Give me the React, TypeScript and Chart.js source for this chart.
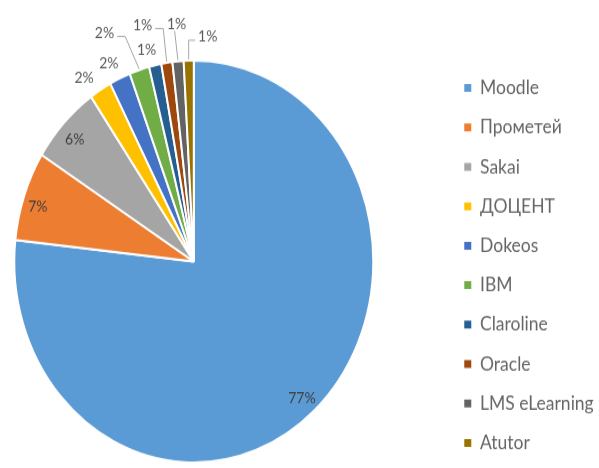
import React, { useEffect, useRef } from 'react';
import { Chart, registerables } from 'chart.js';

Chart.register(...registerables);

// ---- data ----
const categories = ['Moodle', 'Прометей', 'Sakai', 'ДОЦЕНТ', 'Dokeos', 'IBM', 'Claroline', 'Oracle', 'LMS eLearning', 'Atutor'];
const shares = [76.7, 7.2, 6.4, 2.0, 1.9, 1.8, 1.1, 1.0, 1.0, 0.9];

// ---- styles ----
const colors = ['#5B9BD5', '#ED7D31', '#A5A5A5', '#FFC000', '#4472C4', '#70AD47', '#255E91', '#9E480E', '#636363', '#997300'];
// label placement relative to each slice (radius factor, angular shift in degrees, leader line)
const labelRadius = [0.91, 0.91, 0.90, 1.10, 1.095, 1.24, 1.085, 1.21, 1.185, 1.12];
const labelShift = [0.5, -1.8, -1, -2.4, -1.3, -6, -1.6, -5, 0.4, 5.6];
const labelLeader = [false, false, false, false, false, true, false, true, true, true];

const SY = 1.12;
const PLOT_W = 505.6; // width left of the legend (pie area)

const pctLabels = {
  id: 'pctLabels',
  afterDatasetsDraw(chart: any) {
    const ctx = chart.ctx;
    const meta = chart.getDatasetMeta(0);
    const data = chart.data.datasets[0].data as number[];
    const total = data.reduce((a, b) => a + b, 0);
    ctx.save();
    ctx.font = '14px Lato';
    ctx.textAlign = 'center';
    ctx.textBaseline = 'middle';
    meta.data.forEach((arc: any, i: number) => {
      const { x, y, startAngle, endAngle, outerRadius } = arc.getProps(['x', 'y', 'startAngle', 'endAngle', 'outerRadius'], true);
      const mid = (startAngle + endAngle) / 2;
      const a = mid + (labelShift[i] * Math.PI) / 180;
      const lx = x + Math.cos(a) * outerRadius * labelRadius[i];
      const ly = y + Math.sin(a) * outerRadius * labelRadius[i];
      const text = Math.round((data[i] / total) * 100) + '%';
      const tw = ctx.measureText(text).width;
      if (labelLeader[i]) {
        const ex = x + Math.cos(mid) * (outerRadius + 1);
        const ey = y + Math.sin(mid) * (outerRadius + 1);
        ctx.strokeStyle = '#A6A6A6';
        ctx.lineWidth = 1;
        ctx.beginPath();
        if (ex > lx + tw / 2 + 2) {
          const sx = lx + tw / 2 + 3;
          const sy = ly + 3;
          ctx.moveTo(sx, sy);
          ctx.lineTo(Math.min(sx + 8, ex), sy);
          ctx.lineTo(ex, ey);
        } else if (ex < lx - tw / 2 - 2) {
          const sx = lx - tw / 2 - 3;
          const sy = ly + 3;
          ctx.moveTo(sx, sy);
          ctx.lineTo(Math.max(sx - 8, ex), sy);
          ctx.lineTo(ex, ey);
        } else {
          ctx.moveTo(lx - 2, ly + 6);
          ctx.lineTo(ex, ey);
        }
        ctx.stroke();
      }
      ctx.fillStyle = labelRadius[i] < 1 ? '#404040' : '#595959';
      ctx.fillText(text, lx, ly);
    });
    ctx.restore();
  },
};

export default function App() {
  const ref = useRef<HTMLCanvasElement>(null);
  const wrapRef = useRef<HTMLDivElement>(null);
  useEffect(() => {
    const chart = new Chart(ref.current as HTMLCanvasElement, {
      type: 'pie',
      data: {
        labels: categories,
        datasets: [
          {
            data: shares,
            backgroundColor: colors,
            borderColor: '#ffffff',
            borderWidth: 2,
          },
        ],
      },
      options: {
        animation: false,
        responsive: true,
        maintainAspectRatio: false,
        radius: 179.5,
        layout: { padding: { top: 40, bottom: 3, left: 0, right: 0 } },
        plugins: {
          tooltip: { enabled: false },
          legend: {
            position: 'right',
            title: { display: true, text: '', font: { size: 1, lineHeight: 1 }, padding: { top: 6, bottom: 0 } },
            labels: {
              boxWidth: 7,
              boxHeight: 7,
              padding: 17.7,
              color: '#2b2b2b',
              font: { family: 'Lato', size: 17.5 },
              generateLabels: () =>
                categories.map((name, i) => ({
                  text: name,
                  fillStyle: colors[i],
                  strokeStyle: colors[i],
                  lineWidth: 0,
                  hidden: false,
                  index: i,
                })),
            },
          },
        },
      } as any,
      plugins: [pctLabels],
    });
    // size the canvas so that the area left of the legend is exactly PLOT_W wide
    const lw = (chart as any).legend.width;
    if (wrapRef.current) {
      wrapRef.current.style.width = PLOT_W + lw + 'px';
      chart.resize();
    }
    return () => chart.destroy();
  }, []);

  return (
    <div style={{ position: 'fixed', left: 0, top: 0, width: 599, height: 468, overflow: 'hidden', background: '#ffffff' }}>
      <div
        ref={wrapRef}
        style={{
          position: 'absolute',
          left: -59.3,
          top: 0,
          width: 700,
          height: 430,
          transform: `scaleY(${SY})`,
          transformOrigin: '0 0',
        }}
      >
        <canvas ref={ref} style={{ display: 'block' }} />
      </div>
    </div>
  );
}
